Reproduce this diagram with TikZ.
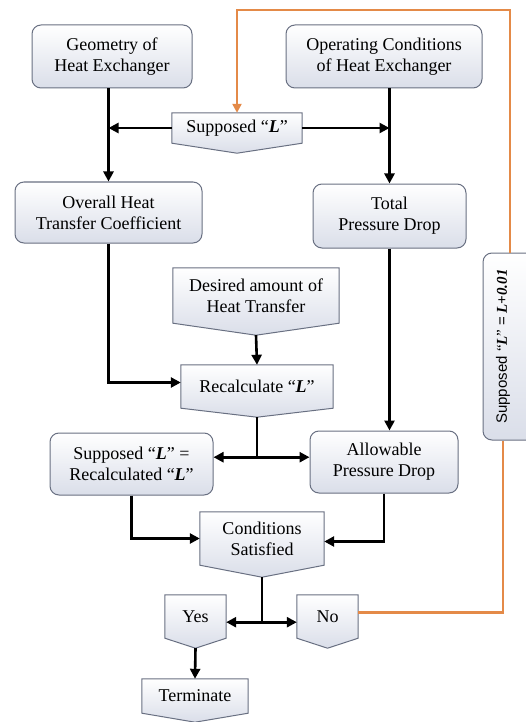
\documentclass[tikz,border=0pt]{standalone}
\usepackage{fontspec}
\setmainfont{Liberation Serif}
\setsansfont{Liberation Sans}
\usetikzlibrary{arrows.meta,backgrounds}
\definecolor{edgegray}{RGB}{105,112,130}
\definecolor{shadegray}{RGB}{218,222,233}
\definecolor{loopline}{RGB}{228,138,72}
\tikzset{
    box/.style={draw=edgegray, rounded corners=9pt, top color=white, bottom color=shadegray,
        line width=1pt, align=center, font=\fontsize{18}{21}\selectfont},
    flag/.style={align=center, inner sep=0pt, font=\fontsize{18}{21}\selectfont},
    flagline/.style={draw=edgegray, top color=white, bottom color=shadegray, line width=1pt},
    arr/.style={line width=2.6pt, -{Triangle[length=10pt,width=10pt]}},
    link/.style={line width=2.6pt},
    back/.style={draw=loopline, line width=2.4pt},
}
\newcommand{\LL}{\textbf{\textit{L}}}
\begin{document}
\begin{tikzpicture}[x=1pt,y=-1pt]
    \useasboundingbox (0,0) rectangle (525,722);
    % rounded boxes
    \node[box, minimum width=160, minimum height=63] (geom) at (112,56.5) {Geometry of\\Heat Exchanger};
    \node[box, minimum width=196, minimum height=63] (oper) at (384,56.5) {Operating Conditions\\of Heat Exchanger};
    \node[box, minimum width=187, minimum height=61] (overall) at (108.5,212.5) {Overall Heat\\Transfer Coefficient};
    \node[box, minimum width=153, minimum height=64] (total) at (389.5,216) {Total\\Pressure Drop};
    \node[box, minimum width=163, minimum height=62] (suprec) at (131.5,464) {Supposed ``\LL'' =\\Recalculated ``\LL''};
    \node[box, minimum width=148, minimum height=62] (allow) at (384,462) {Allowable\\Pressure Drop};
    \node[box, minimum width=70, minimum height=187] (vbox) at (518,346.5)
        {\rotatebox{90}{\fontsize{15}{18}\selectfont{\sffamily Supposed }``\LL'' {\sffamily =} \textbf{\textit{L+0.01}}}\hspace{30pt}};
    % flags pointing down
    \node[flag, minimum width=130, minimum height=30] (supL) at (237,128) {Supposed ``\LL''};
    \node[flag, minimum width=166, minimum height=55] (desired) at (256,295.5) {Desired amount of\\Heat Transfer};
    \node[flag, minimum width=152, minimum height=43] (recalc) at (257,386.5) {Recalculate ``\LL''};
    \node[flag, minimum width=124, minimum height=53] (cond) at (262,538.5) {Conditions\\Satisfied};
    \node[flag, minimum width=61, minimum height=43] (yes) at (195.5,616.5) {Yes};
    \node[flag, minimum width=61, minimum height=43] (no) at (327.5,616.5) {No};
    \node[flag, minimum width=106, minimum height=34] (term) at (195,696) {Terminate};
    \begin{scope}[on background layer]
        \foreach \n/\t in {supL/10,desired/12,recalc/9,cond/12,yes/10,no/10,term/9} {
            \draw[flagline] (\n.north west) -- (\n.north east) -- (\n.south east)
                -- ([yshift=-\t]\n.south) coordinate (\n-tip) -- (\n.south west) -- cycle;
        }
    \end{scope}
    % connectors
    \draw[arr] (supL.west) -- (supL.west -| overall.north);
    \draw[arr] (supL.east) -- (supL.east -| total.north);
    \draw[arr] (overall.north |- geom.south) -- (overall.north);
    \draw[arr] (total.north |- oper.south) -- (total.north);
    \draw[arr] (desired-tip) -- (recalc.north);
    \draw[arr] (overall.south) |- ([yshift=4]recalc.west);
    \draw[arr] (total.south) -- (total.south |- allow.north);
    \coordinate (split1) at ([yshift=-40]recalc-tip);
    \draw[link] (recalc-tip) -- (split1);
    \draw[arr] (split1) -- (split1 -| suprec.east);
    \draw[arr] (split1) -- (split1 -| allow.west);
    \draw[arr] (suprec.south) |- (cond.west);
    \draw[arr] (allow.south) |- ([yshift=-3]cond.east);
    \coordinate (split2) at ([yshift=-45]cond-tip);
    \draw[link] (cond-tip) -- (split2);
    \draw[arr] (split2) -- (split2 -| yes.east);
    \draw[arr] (split2) -- (split2 -| no.west);
    \draw[arr] (yes-tip) -- (term.north);
    % loop back
    \coordinate (turn) at (237,10);
    \draw[back, -{Triangle[length=9pt,width=9pt]}] ([xshift=-8]vbox.north) |- (turn) -- (supL.north);
    \draw[back] ([yshift=4]no.east) -| ([xshift=-15]vbox.south);
\end{tikzpicture}
\end{document}
